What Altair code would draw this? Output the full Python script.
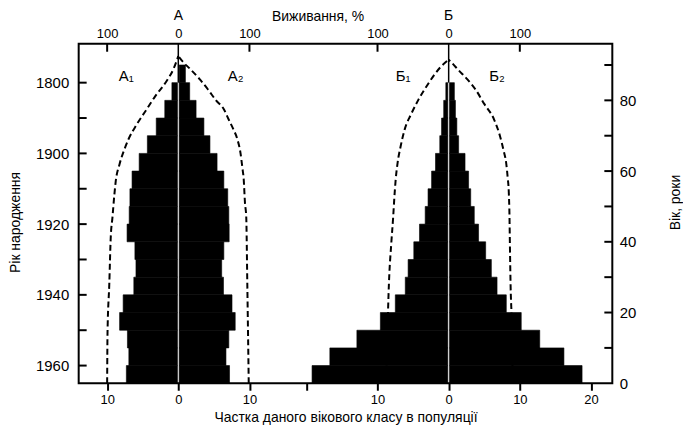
import json
import altair as alt
import pandas as pd

FONT = "Liberation Sans"

# ---------------- data ----------------
AGE_LO = [0, 5, 10, 15, 20, 25, 30, 35, 40, 45, 50, 55, 60, 65, 70, 75, 80, 85]
CLASS_WIDTH = 5

# share of each age class, %  (A1 / A2 = left / right of pyramid А, Б1 / Б2 of pyramid Б)
A1_SHARE = [7.3, 6.95, 7.15, 8.25, 7.75, 6.25, 5.95, 6.1, 7.2, 6.9, 6.8, 6.5, 5.5, 4.35, 3.1, 1.9, 0.9, 0.0]
A2_SHARE = [7.2, 6.7, 7.1, 8.0, 7.55, 6.35, 6.1, 6.4, 7.15, 7.1, 6.95, 6.4, 5.45, 4.45, 3.6, 2.5, 1.6, 1.0]
B1_SHARE = [19.2, 16.7, 12.9, 9.6, 7.5, 6.1, 5.7, 4.9, 4.1, 3.3, 2.9, 2.4, 1.85, 1.25, 1.0, 0.7, 0.4, 0.0]
B2_SHARE = [18.75, 16.2, 12.8, 10.2, 8.1, 6.8, 6.0, 5.2, 4.2, 3.6, 3.1, 2.8, 2.3, 1.4, 1.15, 0.95, 0.8, 0.0]

# survival curves, % surviving to the given age
A1_AGE = [0, 14, 28, 41, 47, 53, 57, 62, 66, 69, 73, 77, 81, 85, 89, 92.5]
A1_SURV = [100, 99.5, 97, 95, 92.5, 90, 88, 82.5, 76, 70, 59, 46, 33, 18, 6.5, 0]
A2_AGE = [0, 28, 47, 51, 57.5, 61, 65, 69, 72, 74.5, 77.5, 80, 83, 86, 89, 91, 92.5]
A2_SURV = [99, 97, 95.5, 93.7, 92, 90, 87.5, 83, 77, 71, 64, 53, 42, 30, 16, 6, 0]
B1_AGE = [0, 1.5, 4, 15, 28, 40, 47, 52, 57.5, 62, 67, 72, 76, 80, 84, 87, 89.5, 91.5]
B1_SURV = [94, 90, 87.5, 86, 84, 80.5, 78, 76.5, 74.5, 72, 67.5, 61.5, 53, 43, 31, 21, 11, 0]
B2_AGE = [0, 2.5, 15, 28, 40, 47, 54, 58, 62, 66, 70, 74.5, 79, 83, 86, 88.5, 90.5, 91.5]
B2_SURV = [97, 90, 89, 87, 86, 85.5, 84.5, 83, 81, 77, 72, 64, 50, 38, 26, 14, 5, 0]

GROUP_NAMES = ["А", "Б"]
GROUP_OFFSET = [0, 38]          # where each pyramid's zero sits on the shared share axis
SURV_PER_UNIT = 10               # 100 % survival drawn at 10 share units

SIDE_LABELS = ["А₁", "А₂", "Б₁", "Б₂"]
SIDE_LABEL_X = [-7.3, 8.05, 31.6, 44.8]
SIDE_LABEL_AGE = [87, 87, 87, 87]

BOTTOM_TICKS = [-10, 0, 10, 18, 28, 38, 48, 58]
BOTTOM_LABELS = ["10", "0", "10", "", "10", "0", "10", "20"]
TOP_TICKS = [-10, 0, 10, 28, 38, 48]
TOP_LABELS = ["100", "0", "100", "100", "0", "100"]
LEFT_TICKS = [5, 15, 25, 35, 45, 55, 65, 75, 85]
LEFT_LABELS = ["1960", "", "1940", "", "1920", "", "1900", "", "1800"]
RIGHT_TICKS = [0, 10, 20, 30, 40, 50, 60, 70, 80, 90]
RIGHT_LABELS = ["0", "", "20", "", "40", "", "60", "", "80", ""]

X_DOMAIN = [-14, 61]
Y_DOMAIN = [0, 96]
GAP = 0.12
W, H = 536, 341

# ---------------- tables ----------------
bar_rows = []
for off, left, right in [(GROUP_OFFSET[0], A1_SHARE, A2_SHARE), (GROUP_OFFSET[1], B1_SHARE, B2_SHARE)]:
    for lo, l, r in zip(AGE_LO, left, right):
        if l > 0:
            bar_rows.append(dict(x=off - l, x2=off - GAP, y=lo, y2=lo + CLASS_WIDTH))
        if r > 0:
            bar_rows.append(dict(x=off + GAP, x2=off + r, y=lo, y2=lo + CLASS_WIDTH))
bars_df = pd.DataFrame(bar_rows)

curve_rows = []
for name, off, sign, ages, surv in [
    ("A1", GROUP_OFFSET[0], -1, A1_AGE, A1_SURV),
    ("A2", GROUP_OFFSET[0], 1, A2_AGE, A2_SURV),
    ("B1", GROUP_OFFSET[1], -1, B1_AGE, B1_SURV),
    ("B2", GROUP_OFFSET[1], 1, B2_AGE, B2_SURV),
]:
    for a, s in zip(ages, surv):
        curve_rows.append(dict(curve=name, age=a, x=off + sign * s / SURV_PER_UNIT))
curve_df = pd.DataFrame(curve_rows)

center_df = pd.DataFrame({"x": GROUP_OFFSET, "name": GROUP_NAMES, "y": [85, 85], "y2": [Y_DOMAIN[1]] * 2})
labels_df = pd.DataFrame({"t": SIDE_LABELS, "x": SIDE_LABEL_X, "y": SIDE_LABEL_AGE})


def expr(values, labels):
    return f"{json.dumps(labels, ensure_ascii=False)}[indexof({json.dumps(values)}, datum.value)]"


xs = alt.Scale(domain=X_DOMAIN, nice=False, zero=False)
ys = alt.Scale(domain=Y_DOMAIN, nice=False, zero=False)

bars = alt.Chart(bars_df).mark_rect(color="black", stroke="black", strokeWidth=0.6).encode(
    x=alt.X("x:Q", scale=xs, axis=alt.Axis(
        orient="bottom", values=BOTTOM_TICKS, labelExpr=expr(BOTTOM_TICKS, BOTTOM_LABELS),
        title="Частка даного вікового класу в популяції", tickSize=7, tickWidth=2,
        tickColor="black", labelPadding=3, titlePadding=4)),
    x2="x2:Q",
    y=alt.Y("y:Q", scale=ys, axis=alt.Axis(
        orient="left", values=LEFT_TICKS, labelExpr=expr(LEFT_TICKS, LEFT_LABELS),
        title="Рік народження", ticks=False, tickSize=0, labelPadding=10,
        labelFontSize=15, titlePadding=13, titleY=179)),
    y2="y2:Q",
)

curves = alt.Chart(curve_df).mark_line(
    color="black", strokeWidth=2, strokeDash=[6, 3.5], interpolate="monotone"
).encode(
    x=alt.X("x:Q", scale=xs, axis=None),
    y=alt.Y("age:Q", scale=ys, axis=None),
    detail="curve:N",
    order="age:Q",
)

center = alt.Chart(center_df).mark_rule(color="black", strokeWidth=1.5).encode(
    x=alt.X("x:Q", scale=xs, axis=alt.Axis(
        orient="top", values=TOP_TICKS, labelExpr=expr(TOP_TICKS, TOP_LABELS),
        title="Виживання, %", titleX=240, ticks=False, tickSize=0,
        labelPadding=3, titlePadding=4)),
    y=alt.Y("y:Q", scale=ys, axis=alt.Axis(
        orient="right", values=RIGHT_TICKS, labelExpr=expr(RIGHT_TICKS, RIGHT_LABELS),
        title="Вік, роки", titleAngle=270, titleY=159, ticks=False, tickSize=0,
        labelPadding=7, labelFontSize=15, titlePadding=47)),
    y2="y2:Q",
)

group_titles = alt.Chart(center_df).mark_text(
    font=FONT, fontSize=14, baseline="alphabetic", color="black"
).encode(
    x=alt.X("x:Q", scale=xs, axis=None), y=alt.value(-24), text="name:N"
)

side_labels = alt.Chart(labels_df).mark_text(
    font=FONT, fontSize=15, color="black"
).encode(
    x=alt.X("x:Q", scale=xs, axis=None), y=alt.Y("y:Q", scale=ys, axis=None), text="t:N"
)

top_ticks = alt.Chart(pd.DataFrame({"v": [v for v in TOP_TICKS if v not in GROUP_OFFSET]})).mark_rule(
    color="black", strokeWidth=2).encode(
    x=alt.X("v:Q", scale=xs, axis=None), y=alt.value(0), y2=alt.value(8))

left_ticks = alt.Chart(pd.DataFrame({"v": LEFT_TICKS})).mark_rule(color="black", strokeWidth=2).encode(
    y=alt.Y("v:Q", scale=ys, axis=None), x=alt.value(0), x2=alt.value(8))

right_ticks = alt.Chart(pd.DataFrame({"v": RIGHT_TICKS[1:]})).mark_rule(color="black", strokeWidth=2).encode(
    y=alt.Y("v:Q", scale=ys, axis=None), x=alt.value(W - 8), x2=alt.value(W))

chart = alt.layer(
    bars, curves, center, group_titles, side_labels, top_ticks, left_ticks, right_ticks
).resolve_scale(x="independent", y="independent").properties(
    width=W, height=H, padding=0, background="white"
).configure_view(stroke="black", strokeWidth=2).configure_axis(
    labelFont=FONT, titleFont=FONT, labelFontSize=13, titleFontSize=14,
    labelColor="black", titleColor="black", titleFontWeight="normal",
    domain=False, grid=False, labelOverlap=False, labelFlush=False,
)

chart.save("out.html", embed_options={"renderer": "svg", "actions": False})
